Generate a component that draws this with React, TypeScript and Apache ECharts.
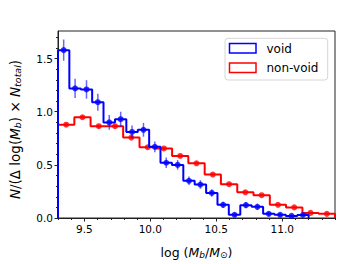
import React, { useEffect, useRef } from "react";
import * as echarts from "echarts";

// Bin edges (log Mb/Msun)
const voidEdges = [9.3, 9.386, 9.473, 9.559, 9.645, 9.732, 9.818, 9.905, 9.991, 10.077, 10.164, 10.25, 10.336, 10.423, 10.509, 10.595, 10.682, 10.768, 10.855, 10.941, 11.027, 11.114, 11.2];
const nonVoidEdges = [9.3, 9.424, 9.547, 9.671, 9.794, 9.918, 10.041, 10.165, 10.288, 10.412, 10.535, 10.659, 10.782, 10.906, 11.029, 11.153, 11.276, 11.4];

// Normalised counts per bin
const voidValues = [1.58, 1.22, 1.21, 1.09, 0.9, 0.93, 0.81, 0.83, 0.67, 0.52, 0.5, 0.35, 0.315, 0.236, 0.124, 0.03, 0.121, 0.105, 0.039, 0.03, 0.02, 0.028];
const voidErrors = [0.1, 0.09, 0.087, 0.08, 0.07, 0.07, 0.06, 0.065, 0.05, 0.05, 0.045, 0.04, 0.04, 0.035, 0.03, 0.02, 0.03, 0.03, 0.02, 0.02, 0.015, 0.015];
const nonVoidValues = [0.878, 0.948, 0.864, 0.864, 0.757, 0.666, 0.655, 0.584, 0.515, 0.409, 0.318, 0.242, 0.215, 0.124, 0.1, 0.048, 0.039];
const nonVoidErrors = [0.015, 0.015, 0.015, 0.015, 0.014, 0.013, 0.013, 0.012, 0.011, 0.01, 0.009, 0.008, 0.008, 0.006, 0.005, 0.004, 0.004];

// Ticks
const xMajorTicks = [9.5, 10.0, 10.5, 11.0];
const xMinorTicks = [9.3, 9.4, 9.5, 9.6, 9.7, 9.8, 9.9, 10.0, 10.1, 10.2, 10.3, 10.4, 10.5, 10.6, 10.7, 10.8, 10.9, 11.0, 11.1, 11.2, 11.3, 11.4];
const yMajorTicks = [0, 0.5, 1.0, 1.5];
const yMinorTicks = [0, 0.1, 0.2, 0.3, 0.4, 0.5, 0.6, 0.7, 0.8, 0.9, 1.0, 1.1, 1.2, 1.3, 1.4, 1.5, 1.6, 1.7];

const X_MIN = 9.3;
const X_MAX = 11.4;
const Y_MIN = 0;
const Y_MAX = 1.76;

const BLUE = "#0000ff";
const RED = "#ff0000";
const FONT = "DejaVu Sans";

function stepData(edges: number[], values: number[]) {
  const d: number[][] = [[edges[0], 0]];
  values.forEach((v, i) => d.push([edges[i], v]));
  d.push([edges[edges.length - 1], values[values.length - 1]]);
  d.push([edges[edges.length - 1], 0]);
  return d;
}

function centers(edges: number[]) {
  return edges.slice(0, -1).map((e, i) => (e + edges[i + 1]) / 2);
}

function pointData(edges: number[], values: number[]) {
  const c = centers(edges);
  return values.map((v, i) => [c[i], v]);
}

function errData(edges: number[], values: number[], errs: number[]) {
  const c = centers(edges);
  return values.map((v, i) => [c[i], v, errs[i]]);
}

function errSeries(data: number[][], color: string) {
  return {
    type: "custom",
    xAxisIndex: 0,
    yAxisIndex: 0,
    data,
    encode: { x: 0, y: 1 },
    renderItem: (params: any, api: any) => {
      const x = api.value(0);
      const y = api.value(1);
      const e = api.value(2);
      const p1 = api.coord([x, y - e]);
      const p2 = api.coord([x, y + e]);
      return {
        type: "line",
        shape: { x1: p1[0], y1: p1[1], x2: p2[0], y2: p2[1] },
        style: { stroke: color, lineWidth: 1.5 },
      };
    },
  };
}

export default function App() {
  const ref = useRef<HTMLDivElement>(null);
  useEffect(() => {
    if (!ref.current) return;
    const chart = echarts.init(ref.current, null, { renderer: "svg" });
    const axisColor = "#222";
    const option: any = {
      animation: false,
      backgroundColor: "#fff",
      textStyle: { fontFamily: FONT },
      grid: {
        left: 52.7,
        right: 17,
        top: 31,
        bottom: 39.7,
        show: true,
        borderColor: axisColor,
        borderWidth: 1,
        backgroundColor: "transparent",
      },
      xAxis: [
        {
          type: "value",
          min: X_MIN,
          max: X_MAX,
          position: "bottom",
          axisLine: { show: true, onZero: false, lineStyle: { color: axisColor, width: 1 } },
          axisTick: { show: true, length: 3.5, customValues: xMajorTicks, lineStyle: { color: axisColor } },
          axisLabel: {
            customValues: xMajorTicks,
            color: "#000",
            fontSize: 10.5,
            fontFamily: FONT,
            margin: 5,
            formatter: (v: number) => v.toFixed(1),
          },
          splitLine: { show: false },
          name: "{n|log (}{i|M}{s|b}{n|/}{i|M}{s|⊙}{n|)}",
          nameLocation: "middle",
          nameGap: 25,
          nameTextStyle: {
            rich: {
              n: { fontSize: 12.5, fontFamily: FONT, color: "#000", verticalAlign: "bottom", lineHeight: 16 },
              i: { fontSize: 12.5, fontFamily: FONT, fontStyle: "italic", color: "#000", verticalAlign: "bottom", lineHeight: 16 },
              s: { fontSize: 9, fontFamily: FONT, fontStyle: "italic", color: "#000", verticalAlign: "bottom", lineHeight: 12 },
            },
          },
        },
        {
          type: "value",
          min: X_MIN,
          max: X_MAX,
          position: "bottom",
          axisLine: { show: false, onZero: false },
          axisTick: { show: true, length: 2, customValues: xMinorTicks, lineStyle: { color: axisColor } },
          axisLabel: { show: false },
          splitLine: { show: false },
        },
      ],
      yAxis: [
        {
          type: "value",
          min: Y_MIN,
          max: Y_MAX,
          position: "left",
          axisLine: { show: true, onZero: false, lineStyle: { color: axisColor, width: 1 } },
          axisTick: { show: true, length: 3.5, customValues: yMajorTicks, lineStyle: { color: axisColor } },
          axisLabel: {
            customValues: yMajorTicks,
            color: "#000",
            fontSize: 10.5,
            fontFamily: FONT,
            margin: 5,
            formatter: (v: number) => v.toFixed(1),
          },
          splitLine: { show: false },
          name: "{i|N}{n|/(Δ log(}{i|M}{s|b}{n|) × }{i|N}{s|total}{n|)}",
          nameLocation: "middle",
          nameRotate: 90,
          nameGap: 36,
          nameTextStyle: {
            padding: [0, 10, 0, 0],
            rich: {
              n: { fontSize: 13.5, fontFamily: FONT, color: "#000", verticalAlign: "bottom", lineHeight: 17 },
              i: { fontSize: 13.5, fontFamily: FONT, fontStyle: "italic", color: "#000", verticalAlign: "bottom", lineHeight: 17 },
              s: { fontSize: 9.5, fontFamily: FONT, fontStyle: "italic", color: "#000", verticalAlign: "bottom", lineHeight: 13 },
            },
          },
        },
        {
          type: "value",
          min: Y_MIN,
          max: Y_MAX,
          position: "left",
          axisLine: { show: false, onZero: false },
          axisTick: { show: true, length: 2, customValues: yMinorTicks, lineStyle: { color: axisColor } },
          axisLabel: { show: false },
          splitLine: { show: false },
        },
      ],
      series: [
        {
          name: "non-void",
          type: "line",
          step: "end",
          data: stepData(nonVoidEdges, nonVoidValues),
          showSymbol: false,
          symbol: "none",
          lineStyle: { color: RED, width: 2 },
          z: 2,
        },
        { ...errSeries(errData(nonVoidEdges, nonVoidValues, nonVoidErrors), "rgba(255,0,0,0.6)"), z: 3 },
        {
          type: "scatter",
          data: pointData(nonVoidEdges, nonVoidValues),
          symbol: "circle",
          symbolSize: 6,
          itemStyle: { color: RED },
          z: 4,
        },
        {
          name: "void",
          type: "line",
          step: "end",
          data: stepData(voidEdges, voidValues),
          showSymbol: false,
          symbol: "none",
          lineStyle: { color: BLUE, width: 2 },
          z: 5,
        },
        { ...errSeries(errData(voidEdges, voidValues, voidErrors), "rgba(0,0,255,0.6)"), z: 6 },
        {
          type: "scatter",
          data: pointData(voidEdges, voidValues),
          symbol: "circle",
          symbolSize: 6,
          itemStyle: { color: BLUE },
          z: 7,
        },
      ],
      graphic: [
        {
          type: "rect",
          shape: { x: 225, y: 38.3, width: 102.7, height: 41.7, r: 3 },
          style: { fill: "rgba(255,255,255,0.8)", stroke: "#d6d6d6", lineWidth: 1 },
          z: 100,
        },
        {
          type: "rect",
          shape: { x: 229.5, y: 43.5, width: 26.5, height: 9.5 },
          style: { fill: "transparent", stroke: BLUE, lineWidth: 1.5 },
          z: 101,
        },
        {
          type: "rect",
          shape: { x: 229.5, y: 63, width: 26.5, height: 9.5 },
          style: { fill: "transparent", stroke: RED, lineWidth: 1.5 },
          z: 101,
        },
        {
          type: "text",
          x: 266.5,
          y: 49,
          style: { text: "void", fontSize: 12, fontFamily: FONT, fill: "#000", textVerticalAlign: "middle" },
          z: 101,
        },
        {
          type: "text",
          x: 266.5,
          y: 68.3,
          style: { text: "non-void", fontSize: 12, fontFamily: FONT, fill: "#000", textVerticalAlign: "middle" },
          z: 101,
        },
      ],
    };
    chart.setOption(option);
    return () => chart.dispose();
  }, []);
  return (
    <div
      ref={ref}
      style={{ position: "fixed", left: 0, top: 0, width: 352, height: 264 }}
    />
  );
}
